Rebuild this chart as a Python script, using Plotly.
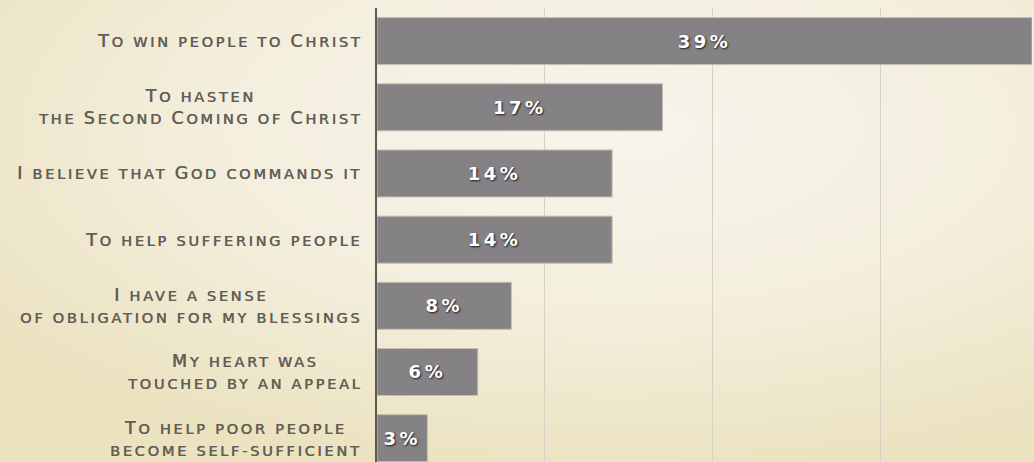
import base64
import re
import plotly.graph_objects as go

categories = [
    "To win people to Christ",
    "To hasten<br>the Second Coming of Christ",
    "I believe that God commands it",
    "To help suffering people",
    "I have a sense<br>of obligation for my blessings",
    "My heart was<br>touched by an appeal",
    "To help poor people<br>become self-sufficient",
]
values = [39, 17, 14, 14, 8, 6, 3]
value_labels = ["39%", "17%", "14%", "14%", "8%", "6%", "3%"]
x_ticks = [0, 10, 20, 30]

CAP_SIZE = 17.5
SMALL_SIZE = 14.5
SPACING = 2.75


def small_caps(text):
    lines = []
    for line in text.split("<br>"):
        parts = []
        for run in re.findall(r"[A-Z]+|[^A-Z]+", line):
            size = CAP_SIZE if run[0].isupper() else SMALL_SIZE
            parts.append(
                f"<span style=\"font-size:{size}px;letter-spacing:{SPACING}px\">{run.upper()}</span>"
            )
        lines.append("".join(parts))
    return "<br>".join(lines)


def spaced(t):
    return f"<span style=\"letter-spacing:3.5px\">{t}</span>"


svg = """<svg xmlns='http://www.w3.org/2000/svg' width='1034' height='462'>
<defs><radialGradient id='g' cx='0.6' cy='0.28' r='0.75'>
<stop offset='0' stop-color='#f7f4ec'/>
<stop offset='0.55' stop-color='#f3eedc'/>
<stop offset='1' stop-color='#ebe2c0'/>
</radialGradient></defs>
<rect width='1034' height='462' fill='url(#g)'/></svg>"""
bg_uri = "data:image/svg+xml;base64," + base64.b64encode(svg.encode()).decode()

fig = go.Figure()
fig.add_trace(go.Bar(
    x=values,
    y=list(range(len(categories))),
    orientation="h",
    width=0.71,
    marker=dict(color="#858285", line=dict(color="#c4beb2", width=1)),
    text=[spaced(v) for v in value_labels],
    textposition="inside",
    insidetextanchor="middle",
    textangle=0,
    textfont=dict(family="DejaVu Sans", size=18, color="#ffffff", weight="bold",
                  shadow="1px 1px 2px rgba(0,0,0,0.8)"),
    hoverinfo="skip",
))

for i, c in enumerate(categories):
    fig.add_annotation(
        x=0, xref="paper", xanchor="right", xshift=-13,
        y=i, yref="y", yanchor="middle",
        text=small_caps(c), showarrow=False, align="center",
        font=dict(family="DejaVu Sans", size=17, color="#625e56",
                  shadow="0.5px 0 0 #625e56"),
    )

fig.update_layout(
    width=1034, height=462,
    margin=dict(l=377, r=2, t=8, b=0),
    paper_bgcolor="#f3eedc",
    plot_bgcolor="rgba(0,0,0,0)",
    showlegend=False,
    images=[dict(source=bg_uri, xref="paper", yref="paper",
                 x=-377/655, y=1 + 8/454, sizex=1034/655, sizey=462/454,
                 xanchor="left", yanchor="top", sizing="stretch", layer="below")],
    xaxis=dict(range=[0, 39], tickvals=x_ticks, showticklabels=False,
               showgrid=True, gridcolor="#d6d0c2", gridwidth=1,
               zeroline=False, showline=False, fixedrange=True),
    yaxis=dict(range=[6.36, -0.5], showticklabels=False, showgrid=False,
               zeroline=False, showline=True, linecolor="#5c5852", linewidth=2,
               fixedrange=True),
)

fig.write_html("out.html", config={"displayModeBar": False},
               post_script="document.body.style.margin='0';")
